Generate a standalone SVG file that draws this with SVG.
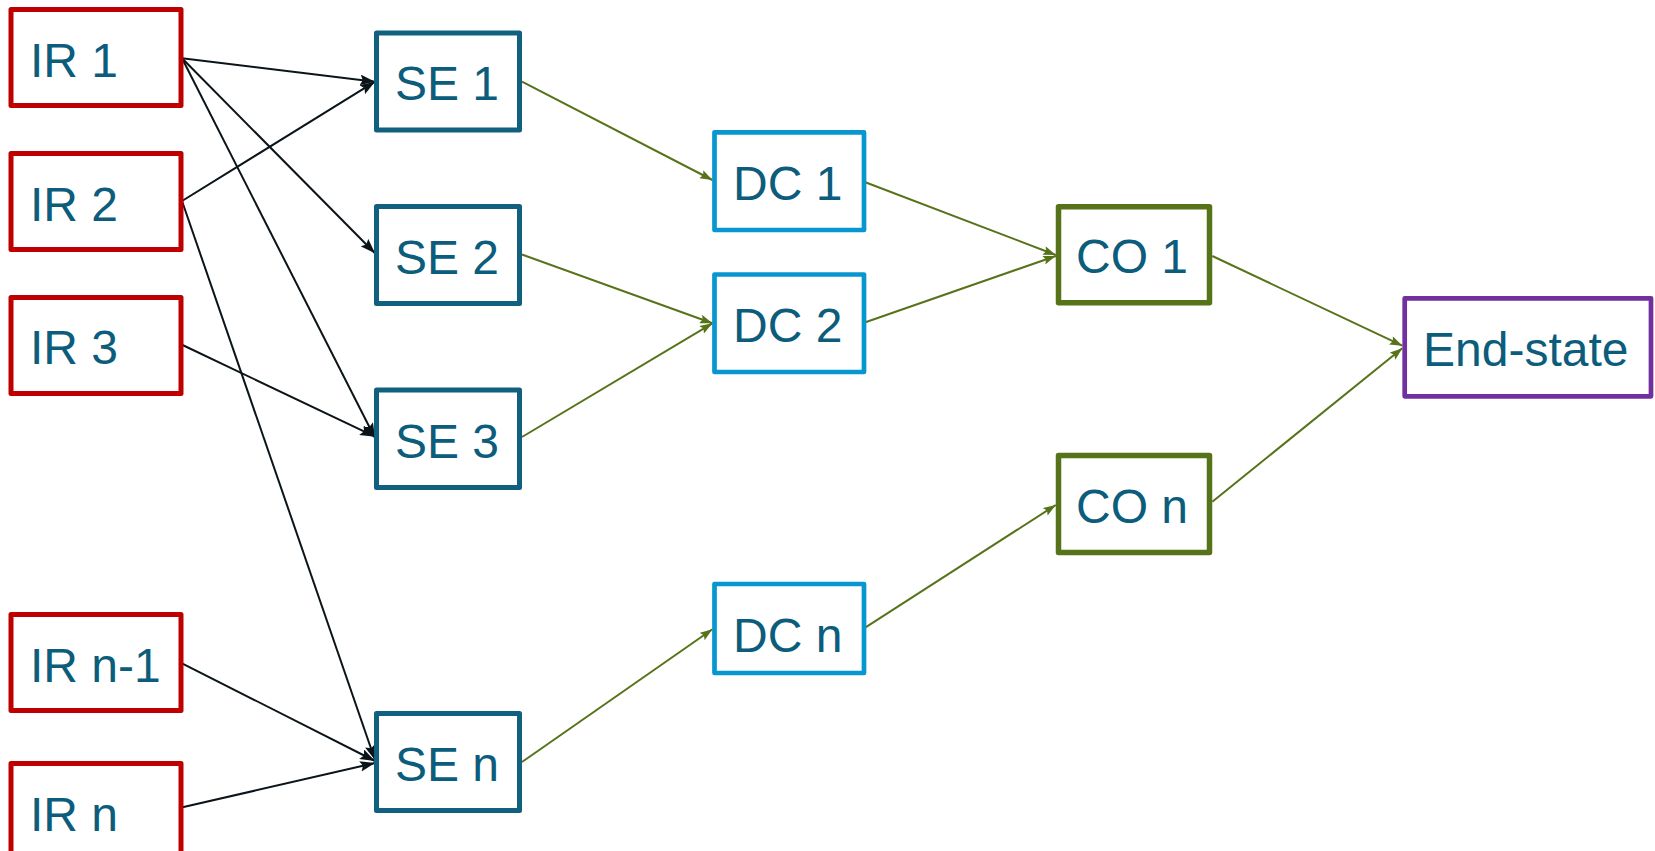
<svg xmlns="http://www.w3.org/2000/svg" width="1655" height="851" viewBox="0 0 1655 851">
<style>
.box{fill:#fff;stroke-linejoin:round}
.ir{stroke:#C00000;stroke-width:5}
.se{stroke:#12607F;stroke-width:5}
.dc{stroke:#0796CF;stroke-width:4.7}
.co{stroke:#57731A;stroke-width:5.5}
.es{stroke:#7030A0;stroke-width:4.7}
.t{font-family:"Liberation Sans",Arial,sans-serif;font-size:48px;fill:#0C5C7C}
.blk{stroke:#0B1419;stroke-width:2;fill:none}
.grn{stroke:#57731A;stroke-width:2;fill:none}
</style>
<defs>
<marker id="ab" viewBox="0 0 14 10" refX="14" refY="5" markerWidth="15" markerHeight="11" markerUnits="userSpaceOnUse" orient="auto">
<path d="M0,0 L14,5 L0,10 L2.5,5 z" fill="#0B1419"/>
</marker>
<marker id="ag" viewBox="0 0 14 10" refX="14" refY="5" markerWidth="13" markerHeight="9" markerUnits="userSpaceOnUse" orient="auto">
<path d="M0,0 L14,5 L0,10 L2.5,5 z" fill="#57731A"/>
</marker>
</defs>
<g id="connectors">
<line class="blk" x1="182" y1="58.3" x2="375" y2="81.7" marker-end="url(#ab)"/>
<line class="blk" x1="182" y1="58.3" x2="375" y2="253.3" marker-end="url(#ab)"/>
<line class="blk" x1="182" y1="58.3" x2="375" y2="438" marker-end="url(#ab)"/>
<line class="blk" x1="182" y1="201" x2="375" y2="81.7" marker-end="url(#ab)"/>
<line class="blk" x1="182" y1="201" x2="375" y2="760" marker-end="url(#ab)"/>
<line class="blk" x1="182.5" y1="345" x2="375" y2="436.7" marker-end="url(#ab)"/>
<line class="blk" x1="182" y1="663.3" x2="375" y2="761" marker-end="url(#ab)"/>
<line class="blk" x1="182.5" y1="807.3" x2="375" y2="763" marker-end="url(#ab)"/>
<line class="grn" x1="522" y1="81.7" x2="712.4" y2="180" marker-end="url(#ag)"/>
<line class="grn" x1="522" y1="254.5" x2="712.4" y2="323.3" marker-end="url(#ag)"/>
<line class="grn" x1="522" y1="437" x2="712.4" y2="323.3" marker-end="url(#ag)"/>
<line class="grn" x1="522" y1="762" x2="712.4" y2="629.3" marker-end="url(#ag)"/>
<line class="grn" x1="864" y1="181.7" x2="1055.8" y2="255" marker-end="url(#ag)"/>
<line class="grn" x1="864" y1="322.7" x2="1055.8" y2="256" marker-end="url(#ag)"/>
<line class="grn" x1="864" y1="628.3" x2="1055.8" y2="505" marker-end="url(#ag)"/>
<line class="grn" x1="1212.3" y1="256" x2="1402.3" y2="345.7" marker-end="url(#ag)"/>
<line class="grn" x1="1212.3" y1="501.7" x2="1402.3" y2="348.3" marker-end="url(#ag)"/>
</g>
<g id="ir1"><rect class="box ir" x="11" y="9.5" width="170" height="96"/><text class="t" x="30" y="77.3">IR 1</text></g>
<g id="ir2"><rect class="box ir" x="11" y="153.5" width="170" height="96"/><text class="t" x="30" y="221.3">IR 2</text></g>
<g id="ir3"><rect class="box ir" x="11" y="297.5" width="170" height="96"/><text class="t" x="30" y="364">IR 3</text></g>
<g id="irn1"><rect class="box ir" x="11" y="614.5" width="170" height="96"/><text class="t" x="30" y="682">IR n-1</text></g>
<g id="irn"><rect class="box ir" x="11" y="763.5" width="170" height="96"/><text class="t" x="30" y="830.7">IR n</text></g>
<g id="se1"><rect class="box se" x="376.5" y="33" width="143" height="97"/><text class="t" x="395" y="100">SE 1</text></g>
<g id="se2"><rect class="box se" x="376.5" y="206.5" width="143" height="97"/><text class="t" x="395" y="273.5">SE 2</text></g>
<g id="se3"><rect class="box se" x="376.5" y="390" width="143" height="97.5"/><text class="t" x="395" y="458.3">SE 3</text></g>
<g id="sen"><rect class="box se" x="376.5" y="713.5" width="143" height="97"/><text class="t" x="395" y="780.7">SE n</text></g>
<g id="dc1"><rect class="box dc" x="714.5" y="132.3" width="149.5" height="97.7"/><text class="t" x="733" y="200">DC 1</text></g>
<g id="dc2"><rect class="box dc" x="714.5" y="274.5" width="149.5" height="97.5"/><text class="t" x="733" y="341.7">DC 2</text></g>
<g id="dcn"><rect class="box dc" x="714.5" y="584" width="149.5" height="89"/><text class="t" x="733" y="652.3">DC n</text></g>
<g id="co1"><rect class="box co" x="1058.5" y="206.7" width="151" height="96"/><text class="t" x="1076" y="272.7">CO 1</text></g>
<g id="con"><rect class="box co" x="1058.5" y="455.5" width="151" height="97"/><text class="t" x="1076" y="522.7">CO n</text></g>
<g id="endstate"><rect class="box es" x="1404.7" y="298.3" width="246.3" height="98"/><text class="t" x="1423" y="366">End-state</text></g>
</svg>
